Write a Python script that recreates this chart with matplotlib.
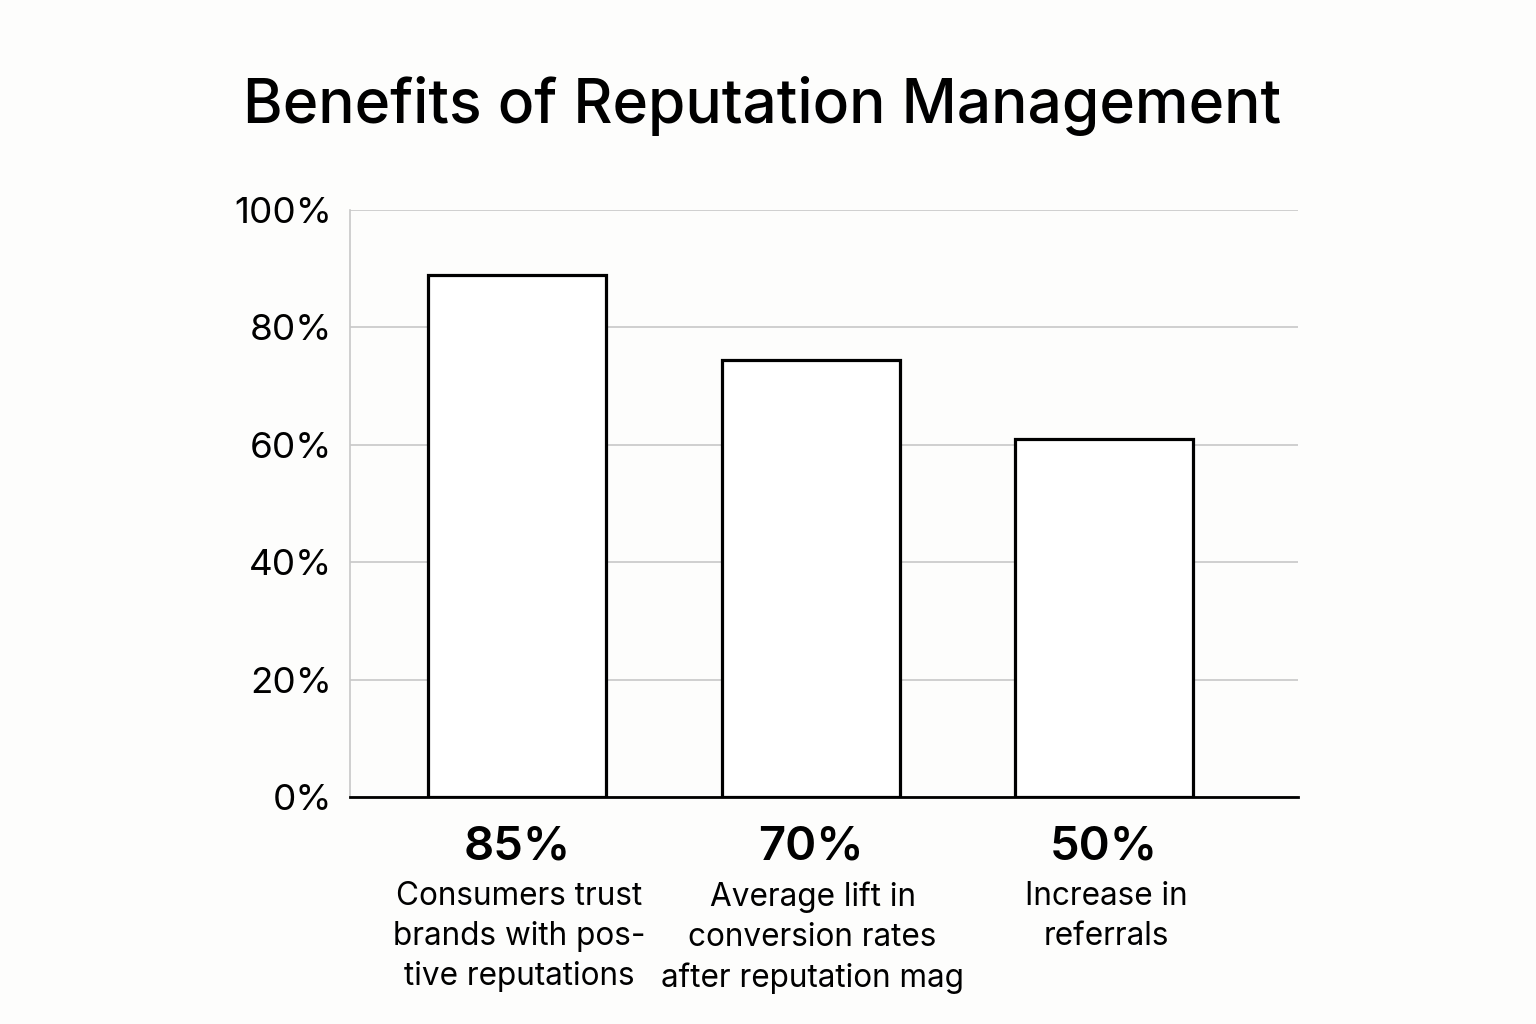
import matplotlib
matplotlib.use("Agg")
import matplotlib.pyplot as plt
import numpy as np

title = "Benefits of Reputation Management"
bar_heights = [89, 74.5, 61]
value_labels = ["85%", "70%", "50%"]
descriptions = [
    "Consumers trust\nbrands with pos-\ntive reputations",
    "Average lift in\nconversion rates\nafter reputation mag",
    "Increase in\nreferrals",
]
yticks = [0, 20, 40, 60, 80, 100]
ytick_labels = ["0%", "20%", "40%", "60%", "80%", "100%"]

plt.rcParams['font.family'] = ['Inter', 'DejaVu Sans']
bg = "#fdfdfc"
fig = plt.figure(figsize=(15.36, 10.24), dpi=100, facecolor=bg)
ax = fig.add_axes([350/1536, 1-797/1024, (1298-350)/1536, (797-210)/1024])
ax.set_facecolor(bg)

x = np.arange(len(bar_heights))
ax.bar(x, bar_heights, width=0.606, facecolor="white", edgecolor="black",
       linewidth=2.3, zorder=3)
ax.set_xlim(-0.569, 2.66)
ax.set_ylim(0, 100)
ax.set_yticks(yticks)
ax.set_yticklabels(ytick_labels, fontsize=26.5)
ax.tick_params(axis='y', length=0, pad=13)
ax.set_xticks([])
ax.grid(axis='y', color="#c8c8c8", linewidth=1.2, zorder=0)
for s in ['top', 'right']:
    ax.spines[s].set_visible(False)
ax.spines['left'].set_color("#c8c8c8")
ax.spines['left'].set_linewidth(1.2)
ax.spines['bottom'].set_color("black")
ax.spines['bottom'].set_linewidth(2)
ax.spines['bottom'].set_zorder(4)

for xi, vl, d in zip(x, value_labels, descriptions):
    ax.annotate(vl, xy=(xi, 0), xycoords=('data', 'axes fraction'),
                xytext=(0, -51), textcoords='offset pixels',
                ha='center', va='center', fontsize=34, fontweight='semibold')
    ax.annotate(d, xy=(xi, 0), xycoords=('data', 'axes fraction'),
                xytext=(2, -84), textcoords='offset pixels',
                ha='center', va='top', fontsize=22.7, linespacing=1.38)

fig.text(762.5/1536, 1-106/1024, title, ha='center', va='center', fontsize=43.5,
         fontweight='medium')

fig.savefig("out.png", dpi=100, facecolor=bg)
